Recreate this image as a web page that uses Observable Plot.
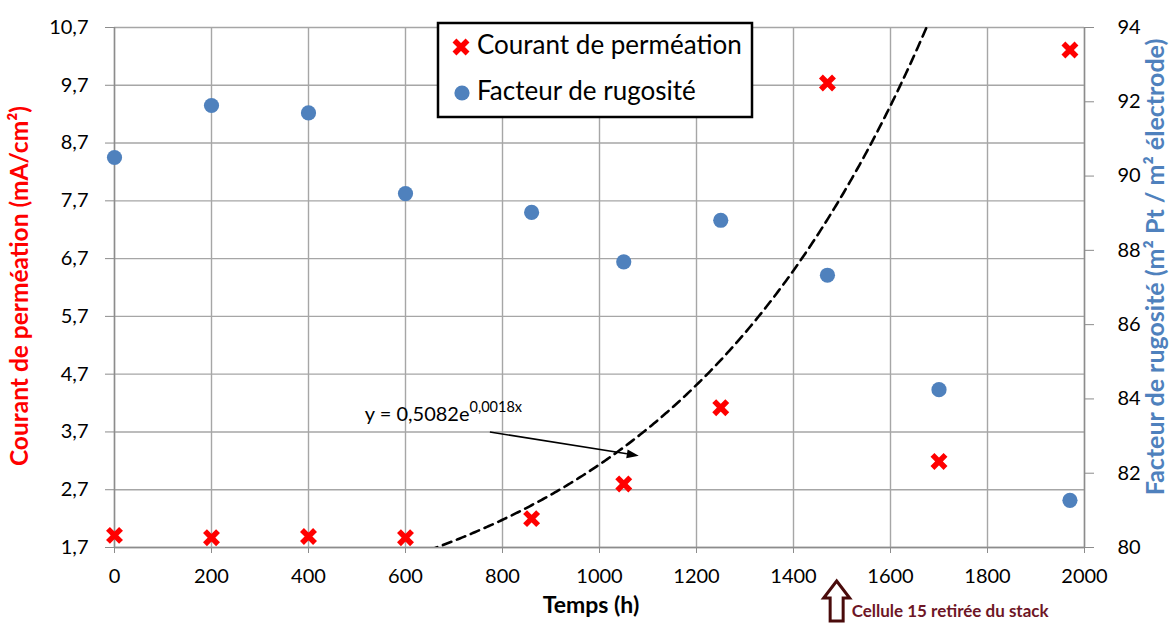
<!DOCTYPE html>
<html><head><meta charset="utf-8">
<script src="https://cdn.jsdelivr.net/npm/d3@7"></script>
<script src="https://cdn.jsdelivr.net/npm/@observablehq/plot@0.6"></script>
<style>
body{margin:0;background:#fff;}
#chart{width:1174px;height:624px;overflow:hidden;}
</style>
</head><body><div id="chart"></div>
<script>
// ---- data ----
const tempsCourant = [0, 200, 400, 600, 860, 1050, 1250, 1470, 1700, 1970];
const courant = [1.91, 1.87, 1.89, 1.87, 2.20, 2.80, 4.12, 9.74, 3.19, 10.31];
const tempsRugosite = [0, 200, 400, 600, 860, 1050, 1250, 1470, 1700, 1970];
const rugosite = [90.50, 91.90, 91.70, 89.53, 89.02, 87.69, 88.81, 87.33, 84.25, 81.27];
const xTicks = [0, 200, 400, 600, 800, 1000, 1200, 1400, 1600, 1800, 2000];
const leftTicks = [1.7, 2.7, 3.7, 4.7, 5.7, 6.7, 7.7, 8.7, 9.7, 10.7];
const rightTicks = [80, 82, 84, 86, 88, 90, 92, 94];
// exponential trend line (Excel fit; the label shows rounded coefficients)
const fitA = 0.5082, fitB = 0.00182;
const fitLabelMain = "y = 0,5082e";
const fitLabelExp = "0,0018x";
const seriesNames = ["Courant de perméation", "Facteur de rugosité"];
const xTitle = "Temps (h)";
const yLeftTitle = "Courant de perméation (mA/cm²)";
const yRightTitle = "Facteur de rugosité (m² Pt / m² électrode)";
const noteText = "Cellule 15 retirée du stack";
const noteTime = 1490;
const eqTextPos = [517, 4.0];
const eqArrow = [775, 3.69, 1082, 3.28];

const RED = "#ff0000", BLUE = "#4f81bd", GRID = "#a6a6a6", AXIS = "#8c8c8c";
const FONT = "Lato, 'Open Sans', sans-serif";

const leftDomain = [1.7, 10.7], rightDomain = [80, 94];
const toLeft = v => leftDomain[0] + (v - rightDomain[0]) * (leftDomain[1] - leftDomain[0]) / (rightDomain[1] - rightDomain[0]);
const fromLeft = y => rightDomain[0] + (y - leftDomain[0]) * (rightDomain[1] - rightDomain[0]) / (leftDomain[1] - leftDomain[0]);
const fmtComma = d => d.toFixed(1).replace(".", ",");

const courantData = tempsCourant.map((t, i) => ({t, v: courant[i]}));
const rugData = tempsRugosite.map((t, i) => ({t, v: rugosite[i]}));
const fitData = d3.range(560, 1760, 4).map(t => ({t, v: fitA * Math.exp(fitB * t)}));

function annotations(index, scales, values, dims) {
  const {x, y} = scales;
  const g = d3.create("svg:g").attr("font-family", FONT).attr("text-anchor", "start");
  const W = dims.width, H = dims.height;
  const bottom = H - dims.marginBottom, top = dims.marginTop;
  const left = dims.marginLeft, right = W - dims.marginRight;

  // axis titles
  g.append("text").attr("x", (left + right) / 2 - 8).attr("y", bottom + 60)
    .attr("text-anchor", "middle").attr("dominant-baseline", "middle")
    .attr("font-weight", "bold").attr("font-size", 23).attr("fill", "#000").text(xTitle);
  g.append("text").attr("transform", `translate(22,${(top + bottom) / 2 - 1}) rotate(-90)`)
    .attr("text-anchor", "middle").attr("dominant-baseline", "middle")
    .attr("font-weight", "bold").attr("font-size", 24.5).attr("fill", RED).text(yLeftTitle);
  g.append("text").attr("transform", `translate(${W - 16},${(top + bottom) / 2 - 20}) rotate(-90)`)
    .attr("text-anchor", "middle").attr("dominant-baseline", "middle")
    .attr("font-weight", "bold").attr("font-size", 25).attr("fill", BLUE).text(yRightTitle);

  // equation label
  const ex = x(eqTextPos[0]), ey = y(eqTextPos[1]);
  const t = g.append("text").attr("x", ex).attr("y", ey + 7).attr("font-size", 20).attr("fill", "#000");
  t.append("tspan").text(fitLabelMain);
  t.append("tspan").attr("dy", -9).attr("font-size", 14.5).text(fitLabelExp);

  // arrow from label to the trend line
  const x1 = x(eqArrow[0]), y1 = y(eqArrow[1]), x2 = x(eqArrow[2]), y2 = y(eqArrow[3]);
  const ang = Math.atan2(y2 - y1, x2 - x1), L = 12, Wd = 4.5;
  const bx = x2 - L * Math.cos(ang), by = y2 - L * Math.sin(ang);
  g.append("line").attr("x1", x1).attr("y1", y1).attr("x2", bx).attr("y2", by)
    .attr("stroke", "#000").attr("stroke-width", 1.6);
  g.append("path").attr("d", `M${x2},${y2}L${bx - Wd * Math.sin(ang)},${by + Wd * Math.cos(ang)}L${bx + Wd * Math.sin(ang)},${by - Wd * Math.cos(ang)}Z`)
    .attr("fill", "#000");

  // bottom note: hollow up arrow + text
  const ax = x(noteTime), tipY = bottom + 34, headY = bottom + 51, baseY = bottom + 74;
  const hw = 13, sw = 6.5;
  g.append("path").attr("d", `M${ax},${tipY}L${ax + hw},${headY}L${ax + sw},${headY}L${ax + sw},${baseY}L${ax - sw},${baseY}L${ax - sw},${headY}L${ax - hw},${headY}Z`)
    .attr("fill", "#fff").attr("stroke", "#4a0b0b").attr("stroke-width", 3).attr("stroke-linejoin", "miter");
  g.append("text").attr("x", ax + 15).attr("y", bottom + 70).attr("font-size", 17)
    .attr("font-weight", "bold").attr("fill", "#6e1626").text(noteText);

  // legend
  const lx = 438, ly = 23, lw = 314, lh = 94;
  g.append("rect").attr("x", lx).attr("y", ly).attr("width", lw).attr("height", lh)
    .attr("fill", "#fff").attr("stroke", "#000").attr("stroke-width", 2.5);
  g.append("path").attr("transform", `translate(${lx + 23},${ly + 24})`)
    .attr("d", d3.symbol(d3.symbolTimes, Math.PI * 36)())
    .attr("fill", "none").attr("stroke", RED).attr("stroke-width", 5.5);
  g.append("text").attr("x", lx + 39).attr("y", ly + 24).attr("dominant-baseline", "middle")
    .attr("font-size", 26).attr("fill", "#000").text(seriesNames[0]);
  g.append("circle").attr("cx", lx + 24).attr("cy", ly + 70).attr("r", 7.6).attr("fill", BLUE);
  g.append("text").attr("x", lx + 39).attr("y", ly + 70).attr("dominant-baseline", "middle")
    .attr("font-size", 26).attr("fill", "#000").text(seriesNames[1]);
  return g.node();
}

const chart = Plot.plot({
  width: 1174, height: 624,
  marginLeft: 114, marginRight: 90, marginTop: 27, marginBottom: 77,
  style: {fontFamily: FONT, fontSize: "20px", color: "#000", background: "#fff", overflow: "visible"},
  x: {domain: [0, 2000]},
  y: {domain: leftDomain},
  marks: [
    Plot.gridX(xTicks, {stroke: GRID, strokeOpacity: 1, strokeWidth: 1.4}),
    Plot.gridY(leftTicks, {stroke: GRID, strokeOpacity: 1, strokeWidth: 1.4}),
    Plot.ruleX([0, 2000], {stroke: AXIS, strokeWidth: 1.4}),
    Plot.ruleY([1.7], {stroke: AXIS, strokeWidth: 1.4}),
    Plot.axisX(xTicks, {tickSize: 6, tickPadding: 15, stroke: AXIS, strokeOpacity: 1, label: null, tickFormat: d => String(d), fontSize: 20}),
    Plot.axisY(leftTicks, {anchor: "left", tickSize: 9, tickPadding: 17, stroke: AXIS, strokeOpacity: 1, label: null, tickFormat: fmtComma, fontSize: 20}),
    Plot.axisY(rightTicks.map(toLeft), {anchor: "right", tickSize: 9, tickPadding: 24, stroke: AXIS, strokeOpacity: 1, label: null, tickFormat: d => String(Math.round(fromLeft(d))), fontSize: 20}),
    Plot.line(fitData, {x: "t", y: "v", stroke: "#000", strokeWidth: 2.6, strokeDasharray: "9,6", clip: true}),
    Plot.dot(rugData, {x: "t", y: d => toLeft(d.v), r: 7.6, fill: BLUE}),
    Plot.dot(courantData, {x: "t", y: "v", symbol: "times", r: 6, stroke: RED, strokeWidth: 5.5}),
    annotations
  ]
});
document.getElementById("chart").append(chart);
</script>
</body></html>
